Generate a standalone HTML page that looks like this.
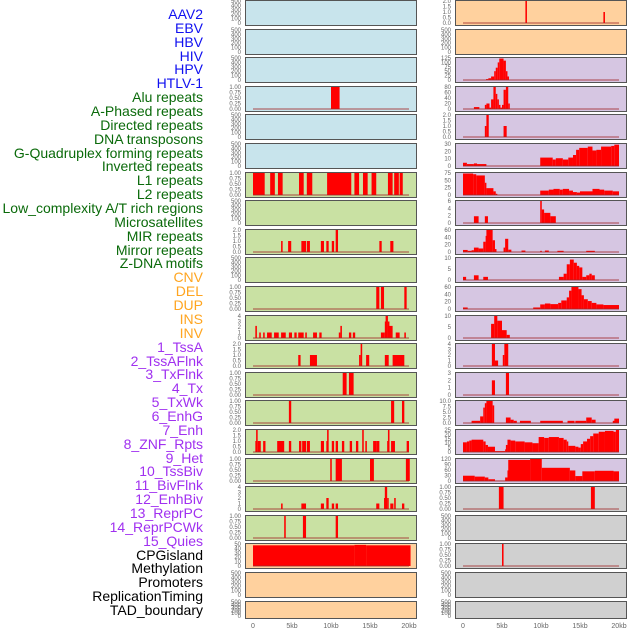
<!DOCTYPE html>
<html><head><meta charset="utf-8">
<style>
html,body{margin:0;padding:0;background:#fff;}
#wrap{position:relative;width:630px;height:630px;overflow:hidden;font-family:"Liberation Sans",sans-serif;}
.lab{position:absolute;right:427px;font-size:14px;line-height:14px;white-space:nowrap;}
</style></head>
<body>
<div id="wrap">
<div id="labels"></div>
<svg id="svg" width="630" height="630" style="position:absolute;left:0;top:0"></svg>
</div>
<script>
// ---------- track label data ----------
const labelNames = ["AAV2","EBV","HBV","HIV","HPV","HTLV-1","Alu repeats","A-Phased repeats","Directed repeats","DNA transposons","G-Quadruplex forming repeats","Inverted repeats","L1 repeats","L2 repeats","Low_complexity A/T rich regions","Microsatellites","MIR repeats","Mirror repeats","Z-DNA motifs","CNV","DEL","DUP","INS","INV","1_TssA","2_TssAFlnk","3_TxFlnk","4_Tx","5_TxWk","6_EnhG","7_Enh","8_ZNF_Rpts","9_Het","10_TssBiv","11_BivFlnk","12_EnhBiv","13_ReprPC","14_ReprPCWk","15_Quies","CPGisland","Methylation","Promoters","ReplicationTiming","TAD_boundary"];
const labelGroups = [0,0,0,0,0,0,1,1,1,1,1,1,1,1,1,1,1,1,1,2,2,2,2,2,3,3,3,3,3,3,3,3,3,3,3,3,3,3,3,4,4,4,4,4];
const groupColors = ["#1010f0","#0a6a0a","#ffa520","#a030f0","#000000"];

// ---------- x axis ----------
const xTickKb = [0,5,10,15,20];
const xTickLabels = ["0","5kb","10kb","15kb","20kb"];

// ---------- tick label sets ----------
const T500 = ["0","100","200","300","400","500"];
const T1 = ["0.00","0.25","0.50","0.75","1.00"];
const T2 = ["0.0","0.5","1.0","1.5","2.0"];
const T4 = ["0","1","2","3","4"];
const T3 = ["0","1","2","3"];
const T50 = ["0","10","20","30","40","50"];
const T125 = ["0","25","50","75","100","125"];
const T80 = ["0","20","40","60","80"];
const T30 = ["0","10","20","30"];
const T75 = ["0","25","50","75"];
const T6 = ["0","2","4","6"];
const T60 = ["0","20","40","60"];
const T10 = ["0","5","10"];
const T10b = ["0.0","2.5","5.0","7.5","10.0"];
const T25 = ["0","5","10","15","20","25"];
const T120 = ["0","30","60","90","120"];

// ---------- left column ----------
const leftBg = ["b","b","b","b","b","b","g","g","g","g","g","g","g","g","g","g","g","g","g","o","o","o"];
const leftYmax = [500,500,500,1,500,500,1,500,2,500,1,4,2,1,1,2,1,4,1,50,500,500];
const leftTicks = [T500,T500,T500,T1,T500,T500,T1,T500,T2,T500,T1,T4,T2,T1,T1,T2,T1,T4,T1,T50,T500,T500];
const L3 = [[10,11.1,1]];
const L6 = [[0,1.5,1],[2.2,2.8,1],[3.2,3.8,1],[5.9,6.5,1],[6.9,7.6,1],[9.5,12.6,1],[13,13.6,1],[14.1,14.7,1],[15.2,15.8,1],[17.3,17.9,1],[18.1,18.7,1],[18.8,19.2,1]];
const L8 = [[3.6,3.8,1],[4.5,4.9,1],[6.2,6.8,1],[6.9,7.3,1],[8.7,9.1,1],[9.4,9.7,1],[10.1,10.4,1],[10.6,10.9,2],[16.2,16.5,1],[17.6,18.0,1]];
const L10 = [[15.8,16.2,1],[16.4,16.8,1],[19.4,19.7,1]];
const L11 = [[0.3,0.5,2.2],[0.8,1.0,1],[1.3,1.5,1],[1.8,2.4,1],[2.7,3.3,1],[3.6,4.2,1],[4.6,5.0,1],[5.3,5.6,1],[5.8,6.5,1],[6.7,6.9,1],[7.7,8.2,1],[8.5,8.8,1],[11.0,11.2,1],[11.2,11.4,2.2],[12.3,12.6,1],[12.8,13.1,1],[16.4,16.9,1],[16.9,17.0,3],[17.0,17.3,4],[17.3,17.4,3],[17.4,17.9,2.2],[18.3,18.8,1],[19.4,19.6,1]];
const L12 = [[5.8,6.1,1],[7.3,8.2,1],[13.6,13.8,1],[13.8,14.0,2],[14.5,14.9,1],[16.9,17.4,1],[17.9,19.4,1]];
const L13 = [[11.5,12.0,1],[12.3,12.9,1]];
const L14 = [[4.6,4.9,1],[17.7,18.1,1],[19.1,19.4,1]];
const L15 = [[0.3,0.4,1],[0.4,0.6,2],[0.6,1.0,1],[1.3,1.6,1],[3.1,4.0,1],[4.6,4.9,1],[5.9,6.2,1],[6.3,6.8,1],[6.9,7.3,1],[8.7,9.1,1],[9.4,9.5,1],[9.5,9.7,2],[10.1,10.4,1],[10.6,10.9,1],[11.4,11.7,1],[12.4,12.7,1],[13.2,13.5,1],[14.0,14.2,2],[14.4,14.6,1],[15.4,15.8,1],[15.8,16.2,1],[17.2,17.3,1],[17.3,17.5,2],[17.7,18.2,1],[19.7,20.0,1]];
const L16 = [[9.9,10.1,1],[10.6,11.4,1],[15.0,15.5,1],[19.6,20.1,1]];
const L17 = [[3.6,3.8,1],[6.2,6.8,1],[8.7,9.1,1],[9.4,9.7,2],[10.1,10.4,1],[10.6,10.9,1],[15.8,16.2,1],[16.8,16.9,2],[16.9,17.2,4],[17.2,17.4,2],[17.6,18.0,1],[18.1,18.3,2],[19.1,19.4,1]];
const L18 = [[4.0,4.2,1],[6.4,6.8,1],[10.6,10.9,1]];
const L19 = [[0,13.0,47],[13.0,14.5,48],[14.5,20.2,47]];
const leftData = [[],[],[],L3,[],[],L6,[],L8,[],L10,L11,L12,L13,L14,L15,L16,L17,L18,L19,[],[]];

// ---------- right column ----------
const rightBg = ["o","o","p","p","p","p","p","p","p","p","p","p","p","p","p","p","p","y","y","y","y","y"];
const rightYmax = [2,500,125,80,2,34,90,6.5,75,14,72,14,4,3,10,25,125,1,500,1,500,500];
const rightTicks = [T2,T500,T125,T80,T2,T30,T75,T6,T60,T10,T60,T10,T4,T3,T10b,T25,T120,T1,T500,T1,T500,T500];
const R0 = [[8.0,8.2,2],[18.0,18.2,1]];
const R2 = [[2.95,3.25,5],[3.25,3.6,10],[3.6,4.0,20],[4.0,4.2,50],[4.2,4.45,70],[4.45,4.65,100],[4.65,5.2,122],[5.2,5.5,110],[5.5,5.7,50],[5.7,5.9,20]];
const R3 = [[1.4,2.1,7],[2.8,3.0,15],[3.0,3.4,20],[3.4,3.6,5],[3.6,3.9,35],[3.9,4.2,80],[4.2,4.4,55],[4.4,4.6,35],[4.6,4.8,15],[4.8,5.0,5],[5.0,5.2,15],[5.2,5.5,70],[5.5,5.8,80],[5.8,6.0,20]];
const R4 = [[2.8,3.0,1],[3.0,3.3,2],[5.2,5.6,1]];
const R5 = [[0,0.5,5],[0.5,1.4,3],[1.4,1.8,4],[1.8,3.0,3],[9.9,11.5,13],[11.5,11.9,10],[11.9,12.8,12],[12.8,13.5,10],[13.5,14.1,13],[14.1,14.5,17],[14.5,14.9,25],[14.9,16.0,28],[16.0,16.6,30],[16.6,17.1,24],[17.1,17.7,25],[17.7,19.0,30],[19.0,19.4,31],[19.4,20.0,33]];
const R6 = [[0,1.3,88],[1.3,1.7,85],[1.7,2.8,80],[2.8,3.0,50],[3.0,3.9,28],[3.9,4.2,15],[4.2,4.4,5],[9.9,11.0,18],[11.0,11.6,22],[11.6,12.4,25],[12.4,12.8,22],[12.8,13.6,25],[13.6,14.1,18],[14.1,14.6,12],[14.6,15.0,10],[15.0,16.6,15],[16.6,17.5,25],[17.5,18.1,22],[18.1,19.2,18],[19.2,20.0,15]];
const R7 = [[1.4,2.0,2],[2.8,3.2,2],[9.9,10.1,6.5],[10.1,10.4,4],[10.4,11.2,3],[11.2,11.9,2]];
const R8 = [[0,0.6,7],[0.6,1.1,4],[1.1,1.4,6],[1.4,2.0,15],[2.0,2.6,12],[2.6,2.9,35],[2.9,3.0,55],[3.0,3.8,75],[3.8,4.1,40],[4.1,4.2,10],[5.2,5.4,15],[5.4,5.8,45],[5.8,6.2,8],[7.5,8.0,5],[9.9,10.1,4],[10.5,11.0,5],[12.1,12.9,4],[15.8,16.9,4]];
const R9 = [[0,0.4,2],[1.4,2.0,3],[2.6,3.2,2],[12.3,12.9,2],[12.9,13.3,4],[13.3,13.7,10],[13.7,14.2,13],[14.2,14.6,11],[14.6,14.9,9],[14.9,15.3,8],[15.3,15.8,2],[15.8,16.2,3],[16.2,16.5,4],[16.5,16.9,3]];
const R10 = [[0,0.6,5],[9.0,9.9,5],[9.9,10.5,15],[10.5,11.2,18],[11.2,12.2,16],[12.2,12.6,20],[12.6,13.3,28],[13.3,13.6,38],[13.6,13.9,60],[13.9,14.8,72],[14.8,15.2,65],[15.2,15.5,45],[15.5,16.0,32],[16.0,16.5,26],[16.5,17.1,20],[17.1,18.0,15],[18.0,20.0,13]];
const R11 = [[3.6,4.0,9],[4.0,4.4,14],[4.4,5.0,11],[5.0,5.6,5],[5.6,6.0,2]];
const R12 = [[3.7,4.1,4],[4.1,4.5,1],[5.1,5.3,2],[5.3,5.8,4]];
const R13 = [[3.7,4.1,2],[5.5,5.9,3]];
const R14 = [[1.1,2.2,1],[2.2,2.6,3],[2.6,2.8,7],[2.8,3.0,9],[3.0,3.8,10],[3.8,4.0,8],[5.5,6.1,2.5],[6.1,6.5,1.5],[6.5,6.9,1],[7.3,8.7,1],[9.9,12.8,1],[13.4,14.3,1],[14.4,15.8,1],[15.8,16.5,2.5],[16.5,17.0,1.5],[19.2,19.6,1],[19.4,20.0,2]];
const R15 = [[0,0.5,11],[0.5,0.8,12],[0.8,1.1,13],[1.1,2.6,14],[2.6,2.9,12],[2.9,3.2,8],[3.2,4.1,6],[4.1,5.4,1],[5.4,5.5,3],[5.5,5.7,8],[5.7,6.1,14],[6.1,6.7,13],[6.7,7.9,12],[7.9,8.9,11],[8.9,9.7,10],[9.7,10.4,17],[10.4,11.0,16],[11.0,12.3,17],[12.3,12.9,16],[12.9,13.3,14],[13.3,13.5,12],[13.5,14.4,7],[14.4,14.8,6],[14.8,15.1,5],[15.1,15.4,9],[15.4,15.9,12],[15.9,16.3,15],[16.3,16.7,18],[16.7,17.4,21],[17.4,18.2,23],[18.2,19.3,24],[19.3,19.6,23],[19.6,20.0,25]];
const R16 = [[0,1.5,30],[1.5,2.8,25],[2.8,3.25,20],[3.25,4.1,10],[4.1,5.4,1],[5.4,5.7,20],[5.7,5.8,60],[5.8,8.6,120],[8.6,10.1,125],[10.1,13.7,75],[13.7,14.4,60],[14.4,15.3,28],[15.3,16.9,55],[16.9,19.3,58],[19.3,20.0,55]];
const R17 = [[4.6,5.2,1],[16.4,16.9,1]];
const R19 = [[5.0,5.2,1]];
const rightData = [R0,[],R2,R3,R4,R5,R6,R7,R8,R9,R10,R11,R12,R13,R14,R15,R16,R17,[],R19,[],[]];

// ---------- rendering ----------
const NS = "http://www.w3.org/2000/svg";
const svg = document.getElementById("svg");
const bgColors = {b:"#c8e4ec",g:"#c9e1a3",o:"#ffd19e",p:"#d6c6e2",y:"#d0d0d0"};
const pxPerKb = 7.8;
function mk(tag, attrs){const e=document.createElementNS(NS,tag);for(const k in attrs)e.setAttribute(k,attrs[k]);return e;}
function panelTop(i){return Math.round(i*28.6);}
function panelH(i){return i===21?17:25;}
function xScale(colX0,kb){return colX0+8+kb*pxPerKb;}
function yScale(top,h,ymax,v){const b=top+h-2, t=top+1;return b-(v/ymax)*(b-t);}

// labels
const labDiv=document.getElementById("labels");
labelNames.forEach((n,i)=>{
  const d=document.createElement("div");
  d.className="lab";
  d.textContent=n;
  d.style.color=groupColors[labelGroups[i]];
  d.style.top=(15+i*13.86-8)+"px";
  
  
  labDiv.appendChild(d);
});

function drawColumn(colX0, bgs, ymaxes, ticks, data, side){
  for(let i=0;i<bgs.length;i++){
    const top=panelTop(i), h=panelH(i);
    const g=mk("g",{});
    
    
    svg.appendChild(g);
    const shadow=mk("rect",{x:colX0+1,y:top+1,width:171,height:h,fill:"#aaa"});
    g.appendChild(shadow);
    const r=mk("rect",{x:colX0+0.5,y:top+0.5,width:171,height:h,fill:bgColors[bgs[i]],stroke:"#555","stroke-width":1});
    
    
    g.appendChild(r);
    // ticks
    const tl=ticks[i];
    tl.forEach((t,k)=>{
      const ty=top+h-2-(k/(tl.length-1))*(h-3);
      const tx=mk("text",{x:colX0-4,y:ty+2,"font-size":6,fill:"#666","text-anchor":"end","font-family":"Liberation Sans, sans-serif"});
      tx.textContent=t;
      
      
      g.appendChild(tx);
    });
    // bars
    const segs=data[i];
    segs.forEach(s=>{
      const x0=xScale(colX0,s[0]), x1=xScale(colX0,s[1]);
      const y=yScale(top,h,ymaxes[i],s[2]);
      const b=mk("rect",{x:x0,y:y,width:Math.max(1.5,x1-x0),height:(top+h-2)-y,fill:"#ff0000"});
      
      
      g.appendChild(b);
    });
    if(ymaxes[i]!==500 || segs.length){
      const bl=mk("line",{x1:xScale(colX0,0),x2:xScale(colX0,20),y1:top+h-2,y2:top+h-2,stroke:"rgba(160,40,40,0.55)","stroke-width":1.5});
      
      
      g.appendChild(bl);
    }
  }
  xTickKb.forEach((kb,k)=>{
    const t=mk("text",{x:xScale(colX0,kb),y:628,"font-size":7,fill:"#666","text-anchor":"middle","font-family":"Liberation Sans, sans-serif"});
    t.textContent=xTickLabels[k];
    
    
    svg.appendChild(t);
  });
}
drawColumn(245, leftBg, leftYmax, leftTicks, leftData, 'left');
drawColumn(455, rightBg, rightYmax, rightTicks, rightData, 'right');
</script>
</body></html>
